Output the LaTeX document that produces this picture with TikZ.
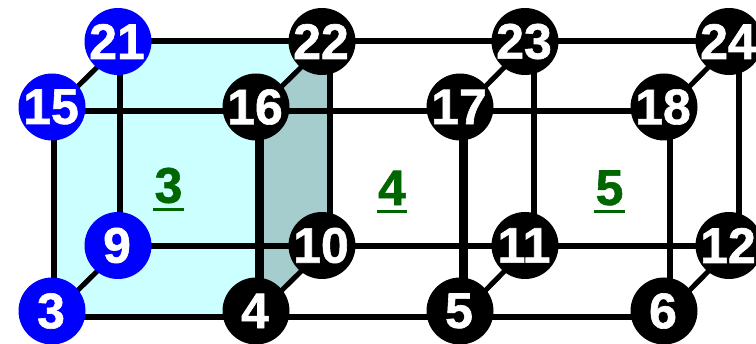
\documentclass[tikz,border=0pt]{standalone}
\usepackage{fontspec}
\setmainfont{Liberation Sans}
\newfontfamily\ballfont[FakeBold=1.2]{Liberation Sans Bold}
\definecolor{cyanface}{HTML}{CCFFFF}
\definecolor{sideface}{HTML}{A5CDCD}
\definecolor{blueball}{HTML}{0000FF}
\definecolor{labelgreen}{HTML}{006600}
\tikzset{
  x=1pt,y=-1pt,
  ball/.style={circle,draw=none,inner sep=0pt,minimum size=67pt,text=white,font=\ballfont\fontsize{50}{50}\selectfont},
  blackball/.style={ball,fill=black},
  blueone/.style={ball,fill=blueball},
  facelabel/.style={inner sep=0pt,text=labelgreen,font=\ballfont\fontsize{50}{50}\selectfont},
  under/.style={draw=labelgreen,line width=3pt},
  thin edge/.style={draw=black,line width=6pt},
  thick edge/.style={draw=black,line width=8.5pt},
  diag edge/.style={draw=black,line width=5pt},
}
\newcommand{\ballnum}[1]{\raisebox{-4pt}{\makebox[0pt]{\kern-2pt #1}}}
\begin{document}
\begin{tikzpicture}
\clip (0,0) rectangle (756,344);
% coordinates of the ball centres
\coordinate (c21) at (118,41.5);
\coordinate (c22) at (322,41.5);
\coordinate (c23) at (525,41.5);
\coordinate (c24) at (729,41.5);
\coordinate (c15) at (52,107);
\coordinate (c16) at (256,107);
\coordinate (c17) at (460,107);
\coordinate (c18) at (664,107);
\coordinate (c9) at (118,245.5);
\coordinate (c10) at (322,245.5);
\coordinate (c11) at (525,245.5);
\coordinate (c12) at (729,245.5);
\coordinate (c3) at (52,311);
\coordinate (c4) at (256,311);
\coordinate (c5) at (460,311);
\coordinate (c6) at (664,311);
% faces
\fill[cyanface] ([shift={(2.3,3.5)}]c15) -- ([shift={(1.5,0.5)}]c21) -- ([shift={(0,0.5)}]c22) -- ([shift={(3.5,3.5)}]c16) -- ([shift={(3.5,5.5)}]c4) -- ([shift={(2.3,5.5)}]c3) -- cycle;
\fill[sideface] ([shift={(3.5,3.5)}]c16) -- ([shift={(0,0.5)}]c22) -- ([shift={(8,0.5)}]c22) -- ([shift={(8,0.5)}]c10) -- ([shift={(0,0.5)}]c10) -- ([shift={(3.5,5.5)}]c4) -- cycle;
% horizontal edges
\draw[thin edge] ([yshift=0.3pt]c21) -- ([yshift=0.3pt]c24);
\draw[thin edge] ([yshift=-3.7pt]c15) -- ([yshift=-3.7pt]c18);
\draw[thin edge] ([yshift=-0.5pt]c9) -- ([yshift=-0.5pt]c12);
\draw[thin edge] ([yshift=-6pt]c3) -- ([yshift=-6pt]c6);
% vertical edges
\draw[thin edge] ([xshift=2.3pt]c15) -- ([xshift=2.3pt]c3);
\draw[thin edge] ([xshift=1.5pt]c21) -- ([xshift=1.5pt]c9);
\draw[thick edge] ([xshift=3.5pt]c16) -- ([xshift=3.5pt]c4);
\draw[thin edge] ([xshift=8pt]c22) -- ([xshift=8pt]c10);
\draw[thick edge] ([xshift=3.7pt]c17) -- ([xshift=3.7pt]c5);
\draw[thin edge] ([xshift=8.5pt]c23) -- ([xshift=8.5pt]c11);
\draw[thin edge] ([xshift=5.5pt]c18) -- ([xshift=5.5pt]c6);
\draw[thin edge] ([xshift=9.5pt]c24) -- ([xshift=9.5pt]c12);
% depth edges
\foreach \a/\b in {3/9,15/21,4/10,16/22,5/11,17/23,6/12,18/24}{
  \draw[diag edge] ([shift={(2.5,2.5)}]c\a) -- ([shift={(2.5,2.5)}]c\b);
}
% balls
\node[blueone] (n21) at (c21) {\ballnum{21}};
\node[blackball] (n22) at (c22) {\ballnum{22}};
\node[blackball] (n23) at (c23) {\ballnum{23}};
\node[blackball] (n24) at (c24) {\ballnum{24}};
\node[blueone] (n15) at (c15) {\ballnum{15}};
\node[blackball] (n16) at (c16) {\ballnum{16}};
\node[blackball] (n17) at (c17) {\ballnum{17}};
\node[blackball] (n18) at (c18) {\ballnum{18}};
\node[blueone] (n9) at (c9) {\ballnum{9}};
\node[blackball] (n10) at (c10) {\ballnum{10}};
\node[blackball] (n11) at (c11) {\ballnum{11}};
\node[blackball] (n12) at (c12) {\ballnum{12}};
\node[blueone] (n3) at (c3) {\ballnum{3}};
\node[blackball] (n4) at (c4) {\ballnum{4}};
\node[blackball] (n5) at (c5) {\ballnum{5}};
\node[blackball] (n6) at (c6) {\ballnum{6}};
% face labels
\node[facelabel] (l3) at (168.5,185.5) {3};
\node[facelabel] (l4) at (392,188) {4};
\node[facelabel] (l5) at (609.5,188) {5};
\draw[under] ([shift={(-1,6)}]l3.south west) -- ([shift={(1,6)}]l3.south east);
\draw[under] ([shift={(-1,6)}]l4.south west) -- ([shift={(1,6)}]l4.south east);
\draw[under] ([shift={(-1,6)}]l5.south west) -- ([shift={(1,6)}]l5.south east);
\end{tikzpicture}
\end{document}
